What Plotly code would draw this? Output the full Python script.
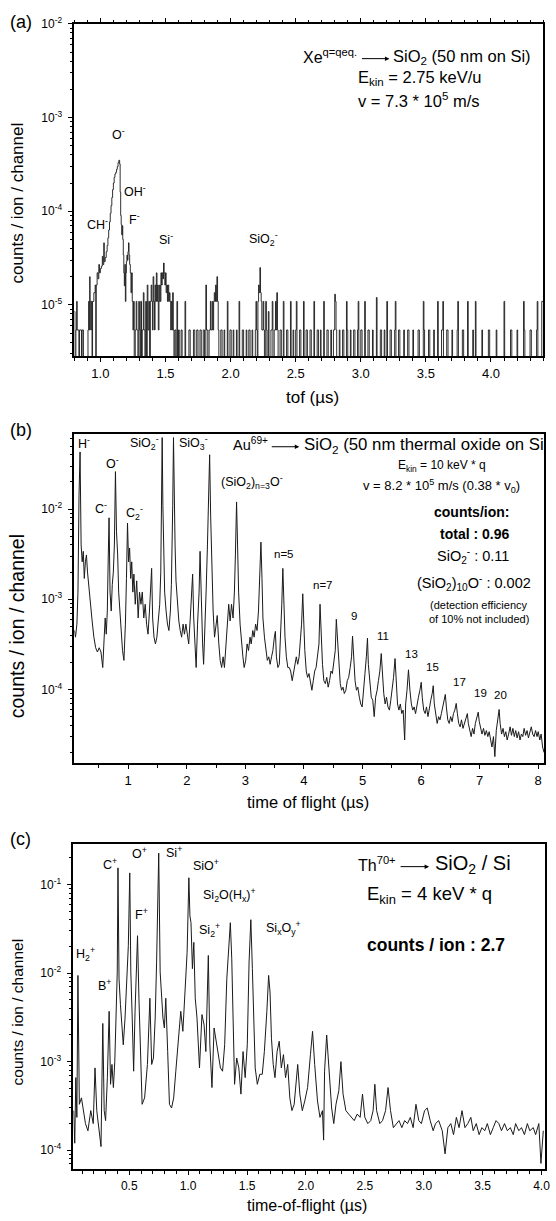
import plotly.graph_objects as go

W, H = 556, 1221
FONT = "Liberation Sans, Arial, Helvetica, sans-serif"

# ---------------- panel (a) data: step histogram (value holds until next tof) -------------
tof_a = [0.800,0.805,0.812,0.818,0.822,0.835,0.840,0.855,0.860,0.870,0.905,0.910,0.914,0.918,0.921,0.926,0.930,0.936,
         0.940,0.950,0.960,0.965,0.968,0.975,0.982,0.988,0.993,1.000,1.008,1.015,1.020,1.026,1.030,1.037,1.045,1.052,
         1.058,1.064,1.070,1.076,1.082,1.088,1.094,1.100,1.106,1.112,1.118,1.124,1.130,1.136,1.142,1.148,1.152,1.156,
         1.160,1.164,1.168,1.172,1.176,1.180,1.184,1.188,1.192,1.196,1.200,1.204,1.208,1.212,1.216,1.220,1.225,1.230,
         1.235,1.240,1.245,1.250,1.255,1.260,1.268,1.275,1.280,1.288,1.295,1.300,1.305,1.310,1.316,1.322,1.330,1.335,
         1.342,1.348,1.354,1.360,1.365,1.372,1.378,1.384,1.390,1.395,1.400,1.405,1.410,1.416,1.420,1.425,1.430,1.435,
         1.440,1.445,1.450,1.455,1.460,1.465,1.470,1.475,1.480,1.485,1.490,1.495,1.500,1.505,1.510,1.515,1.520,1.525,
         1.530,1.535,1.540,1.545,1.550,1.555,1.560,1.565,1.572,1.580,1.588,1.593,1.600,1.606,1.620,1.628,1.650,1.655,
         1.680,1.690,1.715,1.725,1.740,1.750,1.765,1.775,1.790,1.800,1.810,1.815,1.825,1.835,1.845,1.850,1.860,1.865,
         1.870,1.875,1.880,1.885,1.890,1.895,1.900,1.905,1.910,1.925,1.935,1.950,1.955,1.975,1.980,1.995,2.005,2.020,
         2.025,2.045,2.050,2.065,2.070,2.090,2.100,2.120,2.125,2.140,2.150,2.165,2.170,2.190,2.195,2.200,2.205,2.210,
         2.215,2.220,2.225,2.230,2.235,2.240,2.250,2.255,2.260,2.270,2.275,2.280,2.290,2.295,2.310,2.320,2.325,2.335,
         2.345,2.350,2.355,2.360,2.365,2.380,2.390,2.405,2.410,2.430,2.440,2.460,2.465,2.480,2.485,2.500,2.505,2.510,
         2.530,2.540,2.560,2.565,2.580,2.590,2.610,2.620,2.640,2.645,2.665,2.675,2.690,2.695,2.715,2.720,2.740,2.750,
         2.770,2.775,2.790,2.800,2.805,2.810,2.815,2.835,2.840,2.860,2.870,2.890,2.895,2.900,2.920,2.925,2.945,2.955,
         2.975,2.980,2.985,3.000,3.010,3.030,3.035,3.055,3.065,3.090,3.095,3.120,3.125,3.150,3.160,3.180,3.185,3.200,
         3.205,3.225,3.235,3.260,3.265,3.270,3.290,3.300,3.330,3.335,3.360,3.370,3.400,3.405,3.440,3.450,3.480,3.485,
         3.490,3.520,3.530,3.560,3.565,3.590,3.595,3.620,3.630,3.635,3.660,3.670,3.700,3.705,3.740,3.745,3.750,3.780,
         3.790,3.820,3.825,3.860,3.865,3.880,3.885,3.930,3.935,3.980,3.990,4.040,4.045,4.100,4.105,4.150,4.160,4.200,
         4.205,4.250,4.255,4.260,4.300,4.310,4.350,4.355,4.360,4.390,4.400]
cnt_a = [8.5e-6,0,5.4e-6,1.09e-5,5.4e-6,0,5.4e-6,0,5.4e-6,0,5.4e-6,1.09e-5,5.4e-6,2.0e-5,1.09e-5,5.4e-6,1.09e-5,0,
         1.09e-5,1.35e-5,1.63e-5,0,1.63e-5,2.2e-5,1.9e-5,2.7e-5,2.2e-5,2.45e-5,2.6e-5,3.3e-5,2.7e-5,4.6e-5,2.9e-5,3.2e-5,3.7e-5,4.3e-5,
         5.2e-5,6.3e-5,7.7e-5,9.5e-5,1.15e-4,1.4e-4,1.7e-4,2.0e-4,2.3e-4,2.5e-4,2.6e-4,2.8e-4,3.0e-4,3.3e-4,3.5e-4,3.2e-4,1.6e-4,9.0e-5,
         7.2e-5,5.6e-5,7.0e-5,5.0e-5,3.4e-5,2.2e-5,1.6e-5,2.7e-5,1.09e-5,2.2e-5,2.9e-5,3.4e-5,3.0e-5,3.7e-5,4.6e-5,3.4e-5,2.7e-5,2.2e-5,
         1.35e-5,2.2e-5,1.09e-5,5.4e-6,1.09e-5,0,5.4e-6,1.09e-5,5.4e-6,0,1.09e-5,5.4e-6,0,1.09e-5,0,5.4e-6,1.35e-5,5.4e-6,
         0,1.09e-5,0,1.63e-5,5.4e-6,1.09e-5,0,1.09e-5,1.63e-5,1.09e-5,5.4e-6,2.0e-5,1.09e-5,5.4e-6,1.63e-5,1.09e-5,2.2e-5,1.09e-5,
         1.63e-5,5.4e-6,1.09e-5,1.63e-5,1.09e-5,2.2e-5,1.63e-5,2.2e-5,1.9e-5,2.8e-5,2.2e-5,1.63e-5,2.2e-5,1.35e-5,1.63e-5,1.09e-5,1.63e-5,1.09e-5,
         1.35e-5,1.09e-5,5.4e-6,1.09e-5,5.4e-6,1.35e-5,5.4e-6,0,5.4e-6,0,1.09e-5,0,5.4e-6,0,5.4e-6,0,1.09e-5,0,
         5.4e-6,0,5.4e-6,0,5.4e-6,0,5.4e-6,0,5.4e-6,0,1.63e-5,5.4e-6,0,5.4e-6,1.09e-5,5.4e-6,1.09e-5,5.4e-6,
         1.09e-5,1.35e-5,1.09e-5,1.63e-5,1.09e-5,2.0e-5,1.09e-5,5.4e-6,0,5.4e-6,0,5.4e-6,0,1.09e-5,0,5.4e-6,0,5.4e-6,
         0,5.4e-6,0,1.09e-5,0,5.4e-6,0,5.4e-6,0,5.4e-6,0,5.4e-6,0,5.4e-6,1.09e-5,5.4e-6,0,1.09e-5,
         1.63e-5,1.35e-5,2.5e-5,1.35e-5,1.09e-5,5.4e-6,1.09e-5,5.4e-6,0,1.09e-5,5.4e-6,0,8.5e-6,0,5.4e-6,1.09e-5,0,5.4e-6,
         1.09e-5,5.4e-6,1.35e-5,5.4e-6,0,5.4e-6,0,1.09e-5,0,5.4e-6,0,1.09e-5,0,5.4e-6,0,5.4e-6,1.09e-5,0,
         5.4e-6,0,1.09e-5,0,5.4e-6,0,5.4e-6,0,1.09e-5,0,5.4e-6,0,5.4e-6,0,1.09e-5,0,5.4e-6,0,
         5.4e-6,0,5.4e-6,1.3e-5,1.09e-5,5.4e-6,0,5.4e-6,0,5.4e-6,0,1.09e-5,5.4e-6,0,5.4e-6,0,5.4e-6,0,
         5.4e-6,1.09e-5,0,5.4e-6,0,1.09e-5,0,5.4e-6,0,5.4e-6,0,1.2e-5,0,5.4e-6,0,5.4e-6,0,1.09e-5,
         0,5.4e-6,0,5.4e-6,1.09e-5,0,5.4e-6,0,5.4e-6,0,5.4e-6,0,5.4e-6,0,5.4e-6,0,1.09e-5,5.4e-6,
         0,5.4e-6,0,5.4e-6,0,1.09e-5,0,5.4e-6,1.09e-5,0,5.4e-6,0,5.4e-6,0,5.4e-6,1.09e-5,0,5.4e-6,
         0,1.09e-5,0,5.4e-6,0,1.09e-5,0,5.4e-6,0,5.4e-6,0,5.4e-6,0,1.09e-5,0,5.4e-6,0,5.4e-6,
         0,1.09e-5,5.4e-6,0,5.4e-6,0,5.4e-6,1.09e-5,0,1.09e-5,1.09e-5]

# ---------------- panel (b) data ----------------
tof_b = [0.082,0.10,0.124,0.142,0.16,0.178,0.196,0.214,0.233,0.25,0.269,0.287,0.305,0.323,0.353,0.384,0.414,0.444,0.474,0.505,
         0.535,0.565,0.59,0.607,0.625,0.643,0.66,0.673,0.69,0.71,0.728,0.746,0.764,0.782,0.80,0.82,0.837,0.855,0.88,0.903,
         0.927,0.952,0.97,0.988,1.006,1.024,1.042,1.06,1.079,1.097,1.12,1.145,1.17,1.193,1.218,1.24,1.266,1.29,1.314,1.338,
         1.363,1.387,1.40,1.417,1.44,1.465,1.49,1.513,1.538,1.556,1.568,1.58,1.592,1.604,1.622,1.647,1.67,1.695,1.72,1.737,
         1.75,1.76,1.773,1.785,1.80,1.816,1.84,1.864,1.888,1.912,1.937,1.96,1.985,2.01,2.033,2.057,2.08,2.10,2.118,2.142,
         2.16,2.184,2.21,2.227,2.245,2.27,2.287,2.305,2.33,2.353,2.37,2.39,2.408,2.426,2.45,2.474,2.498,2.52,2.547,2.57,
         2.595,2.62,2.643,2.668,2.69,2.716,2.74,2.764,2.79,2.813,2.83,2.85,2.867,2.885,2.91,2.933,2.958,2.98,3.006,3.03,
         3.054,3.08,3.10,3.127,3.15,3.175,3.20,3.224,3.248,3.266,3.284,3.30,3.326,3.35,3.375,3.40,3.423,3.447,3.47,3.495,
         3.513,3.53,3.556,3.58,3.604,3.622,3.64,3.66,3.677,3.70,3.725,3.75,3.773,3.80,3.82,3.846,3.87,3.894,3.918,3.943,
         3.96,3.98,3.997,4.015,4.04,4.063,4.087,4.11,4.136,4.16,4.184,4.208,4.233,4.257,4.275,4.293,4.317,4.34,4.366,4.39,
         4.414,4.438,4.462,4.486,4.51,4.535,4.553,4.57,4.595,4.62,4.643,4.667,4.69,4.716,4.74,4.764,4.79,4.813,4.83,4.85,
         4.873,4.897,4.92,4.946,4.97,4.994,5.018,5.042,5.066,5.085,5.10,5.127,5.15,5.175,5.20,5.224,5.25,5.272,5.296,5.32,
         5.338,5.363,5.387,5.41,5.435,5.46,5.483,5.507,5.53,5.556,5.574,5.598,5.622,5.646,5.67,5.694,5.72,5.737,5.76,5.785,
         5.81,5.834,5.858,5.882,5.906,5.93,5.955,5.98,6.003,6.02,6.045,6.07,6.093,6.118,6.142,6.166,6.19,6.208,6.226,6.25,
         6.275,6.30,6.323,6.347,6.37,6.396,6.414,6.432,6.456,6.48,6.505,6.53,6.553,6.577,6.60,6.62,6.643,6.668,6.69,6.716,
         6.74,6.764,6.79,6.807,6.83,6.855,6.88,6.903,6.927,6.95,6.976,6.994,7.018,7.04,7.066,7.09,7.115,7.14,7.163,7.187,
         7.21,7.236,7.26,7.284,7.308,7.333,7.35,7.375,7.40,7.423,7.447,7.47,7.495,7.52,7.544,7.568,7.592,7.616,7.64,7.665,
         7.69,7.713,7.737,7.76,7.785,7.81,7.833,7.858,7.882,7.906,7.93,7.955,7.98,8.0,8.027,8.05,8.075,8.10]
cnt_b = [4.5e-4,3.8e-4,5.3e-4,1.2e-3,1.4e-2,4.3e-2,4.0e-3,2.6e-3,3.4e-3,1.7e-3,2.6e-3,3.1e-3,2.0e-3,1.45e-3,8.8e-4,5.75e-4,3.8e-4,2.9e-4,2.6e-4,2.9e-4,
         2.6e-4,1.75e-4,3.8e-4,6.2e-4,4.1e-4,7.4e-4,3.1e-3,8.0e-3,1.2e-3,7.4e-4,1.45e-3,2.0e-3,4.0e-3,2.6e-2,5.6e-3,3.1e-3,1.2e-3,7.4e-4,4.1e-4,2.7e-4,
         2.1e-4,5.3e-4,1.7e-3,7.0e-3,2.6e-3,3.7e-3,1.7e-3,2.6e-3,1.2e-3,1.9e-3,8.8e-4,1.6e-3,6.2e-4,1.2e-3,8.8e-4,1.2e-3,6.2e-4,8.8e-4,5.3e-4,4.1e-4,
         7.4e-4,1.45e-3,2.2e-3,6.2e-4,3.8e-4,3.2e-4,3.8e-4,5.75e-4,8.8e-4,2.0e-3,1.1e-2,6.2e-2,1.1e-2,3.1e-3,1.2e-3,7.4e-4,5.3e-4,4.5e-4,7.4e-4,1.45e-3,
         3.1e-3,1.1e-2,6.2e-2,9.4e-3,4.0e-3,1.6e-3,8.8e-4,5.75e-4,4.5e-4,3.8e-4,5.3e-4,4.1e-4,5.3e-4,3.8e-4,3.2e-4,5.75e-4,1.2e-3,1.9e-3,6.2e-4,2.7e-4,
         1.75e-4,5.3e-4,1.2e-3,3.4e-3,8.8e-4,3.2e-4,1.9e-4,3.8e-4,1.2e-3,4.0e-3,1.1e-2,4.0e-2,8.2e-3,2.0e-3,7.4e-4,3.8e-4,5.3e-4,6.6e-4,3.2e-4,2.1e-4,
         1.75e-4,2.3e-4,1.75e-4,3.2e-4,6.2e-4,8.8e-4,5.75e-4,8.8e-4,6.2e-4,1.2e-3,3.1e-3,1.2e-2,4.0e-3,1.2e-3,5.3e-4,3.2e-4,2.3e-4,1.75e-4,2.1e-4,3.2e-4,
         2.7e-4,3.8e-4,3.2e-4,4.5e-4,3.8e-4,5.3e-4,4.5e-4,7.4e-4,1.6e-3,4.3e-3,1.7e-3,6.2e-4,3.8e-4,2.7e-4,2.1e-4,2.3e-4,1.9e-4,2.3e-4,2.7e-4,3.8e-4,
         4.4e-4,2.3e-4,1.75e-4,1.9e-4,3.8e-4,8.8e-4,2.2e-3,7.4e-4,3.8e-4,2.3e-4,1.75e-4,1.75e-4,1.6e-4,1.25e-4,1.5e-4,1.75e-4,2.3e-4,1.9e-4,2.3e-4,3.8e-4,
         5.3e-4,1.15e-3,5.3e-4,2.7e-4,1.6e-4,1.36e-4,1.5e-4,1.25e-4,9.8e-5,1.25e-4,1.6e-4,1.75e-4,2.3e-4,3.2e-4,8.8e-4,4.1e-4,1.9e-4,1.25e-4,1.16e-4,1.36e-4,
         1.06e-4,1.25e-4,1.6e-4,1.5e-4,1.9e-4,2.7e-4,6.0e-4,3.8e-4,1.75e-4,1.16e-4,9.8e-5,1.06e-4,9.0e-5,9.8e-5,1.25e-4,1.36e-4,1.75e-4,2.3e-4,3.9e-4,2.3e-4,
         1.25e-4,9.8e-5,1.06e-4,8.2e-5,6.9e-5,6.4e-5,9.0e-5,1.5e-4,2.3e-4,3.7e-4,1.9e-4,1.06e-4,8.2e-5,7.6e-5,5.0e-5,8.2e-5,9.8e-5,1.25e-4,1.6e-4,2.5e-4,
         1.6e-4,9.0e-5,6.9e-5,8.2e-5,6.4e-5,5.9e-5,7.6e-5,9.8e-5,1.36e-4,2.2e-4,1.25e-4,6.9e-5,5.9e-5,6.9e-5,5.4e-5,5.9e-5,2.75e-5,6.9e-5,9.8e-5,1.65e-4,
         9.8e-5,6.9e-5,5.9e-5,6.4e-5,5.4e-5,6.9e-5,8.2e-5,9.8e-5,1.2e-4,8.2e-5,5.9e-5,5.4e-5,6.4e-5,5.0e-5,5.9e-5,7.6e-5,9.0e-5,1.1e-4,6.9e-5,5.0e-5,
         4.2e-5,5.0e-5,4.6e-5,5.4e-5,6.4e-5,7.6e-5,8.8e-5,6.4e-5,4.6e-5,4.2e-5,5.0e-5,4.4e-5,5.4e-5,5.9e-5,7.0e-5,5.4e-5,4.2e-5,3.85e-5,4.6e-5,3.7e-5,
         4.2e-5,5.0e-5,5.4e-5,4.2e-5,3.5e-5,3.0e-5,3.7e-5,3.2e-5,4.2e-5,5.0e-5,5.6e-5,4.4e-5,3.85e-5,3.2e-5,3.7e-5,3.1e-5,3.5e-5,3.0e-5,3.4e-5,2.75e-5,
         2.3e-5,3.0e-5,1.8e-5,3.5e-5,4.6e-5,6.0e-5,4.2e-5,3.2e-5,3.7e-5,3.0e-5,3.4e-5,2.75e-5,3.2e-5,3.85e-5,3.1e-5,3.7e-5,3.0e-5,3.5e-5,2.9e-5,3.4e-5,
         2.75e-5,3.2e-5,3.0e-5,3.7e-5,3.1e-5,3.5e-5,2.9e-5,3.4e-5,3.85e-5,3.2e-5,3.0e-5,3.5e-5,3.0e-5,3.4e-5,2.75e-5,3.2e-5,2.3e-5,2.0e-5]

# ---------------- panel (c) data ----------------
tof_c = [0.028,0.037,0.046,0.055,0.064,0.076,0.094,0.113,0.128,0.149,0.173,0.194,0.209,0.224,0.245,0.26,0.275,0.287,0.299,0.314,
         0.329,0.341,0.353,0.365,0.377,0.389,0.398,0.404,0.413,0.425,0.44,0.449,0.464,0.48,0.492,0.504,0.513,0.525,0.537,0.549,
         0.561,0.57,0.582,0.594,0.609,0.63,0.654,0.675,0.69,0.705,0.72,0.732,0.744,0.75,0.762,0.774,0.786,0.798,0.81,0.826,
         0.841,0.859,0.877,0.895,0.916,0.937,0.955,0.976,0.991,1.006,1.015,1.024,1.036,1.048,1.06,1.075,1.096,1.117,1.135,1.15,
         1.162,1.171,1.184,1.202,1.22,1.238,1.256,1.274,1.292,1.31,1.328,1.34,1.358,1.37,1.382,1.394,1.412,1.43,1.448,1.466,
         1.484,1.502,1.517,1.532,1.545,1.557,1.569,1.587,1.608,1.629,1.647,1.668,1.683,1.695,1.707,1.722,1.737,1.755,1.773,1.791,
         1.809,1.827,1.845,1.863,1.881,1.90,1.918,1.93,1.948,1.969,1.99,2.014,2.038,2.056,2.074,2.098,2.119,2.14,2.15,2.158,
         2.176,2.194,2.218,2.236,2.255,2.279,2.297,2.315,2.339,2.363,2.387,2.41,2.435,2.46,2.48,2.50,2.525,2.55,2.57,2.585,
         2.60,2.627,2.65,2.676,2.697,2.718,2.742,2.766,2.79,2.814,2.838,2.862,2.886,2.91,2.934,2.958,2.98,3.007,3.03,3.055,
         3.08,3.10,3.127,3.157,3.181,3.205,3.23,3.253,3.277,3.30,3.325,3.35,3.374,3.40,3.42,3.446,3.47,3.494,3.518,3.54,
         3.566,3.59,3.614,3.638,3.66,3.686,3.71,3.735,3.76,3.78,3.807,3.83,3.855,3.88,3.90,3.93,3.95,3.977,3.995,4.015]
cnt_c = [2.8e-4,1.2e-4,6.6e-4,2.35e-4,9.4e-3,3.3e-4,3.9e-4,2.8e-4,2.0e-4,1.66e-4,2.8e-4,2.0e-4,8.5e-4,2.8e-4,1.66e-4,1.1e-4,2.7e-3,2.8e-4,2.16e-4,6.6e-4,
         3.7e-3,5.55e-4,9.3e-4,5.1e-4,1.0e-3,5.2e-3,1.03e-2,0.154,8.6e-3,4.4e-3,2.6e-3,1.55e-3,3.1e-3,8.6e-3,2.04e-2,0.135,1.03e-2,3.1e-3,7.8e-4,3.7e-3,
         1.33e-2,2.64e-2,5.2e-3,1.3e-3,3.3e-4,3.9e-4,9.3e-4,5.2e-3,9.3e-4,1.1e-3,3.1e-3,1.33e-2,0.114,0.226,1.03e-2,5.2e-3,3.1e-3,2.4e-3,5.2e-3,1.3e-3,
         3.3e-4,3.0e-4,3.9e-4,7.8e-4,1.55e-3,3.7e-3,2.2e-3,6.1e-3,1.72e-2,0.119,4.4e-2,3.7e-2,1.12e-2,2.22e-2,5.2e-3,3.1e-3,8.5e-4,3.4e-3,2.6e-3,1.3e-3,
         5.2e-3,1.58e-2,1.55e-3,5.1e-4,2.4e-3,1.7e-3,1.1e-3,8.5e-4,7.8e-4,1.55e-3,8.6e-3,1.58e-2,3.7e-2,1.45e-2,3.7e-3,5.55e-4,1.1e-3,8.5e-4,4.3e-4,1.3e-3,
         6.6e-4,1.55e-3,1.33e-2,4.0e-2,1.12e-2,3.1e-3,8.5e-4,5.55e-4,7.2e-4,7.2e-4,1.3e-3,3.7e-3,9.4e-3,6.1e-3,1.84e-3,9.3e-4,6.6e-4,1.3e-3,1.7e-3,8.5e-4,
         1.2e-3,6.6e-4,9.3e-4,3.9e-4,2.8e-4,3.3e-4,7.2e-4,9.3e-4,4.3e-4,2.8e-4,3.6e-4,5.1e-4,1.2e-3,2.2e-3,9.3e-4,3.6e-4,2.35e-4,2.8e-4,1.3e-4,7.8e-4,
         2.0e-3,9.3e-4,3.0e-4,2.0e-4,3.3e-4,4.7e-4,1.0e-3,4.3e-4,2.8e-4,2.56e-4,2.35e-4,2.16e-4,2.56e-4,2.35e-4,4.3e-4,2.35e-4,2.0e-4,2.16e-4,2.8e-4,5.55e-4,
         2.8e-4,2.0e-4,2.16e-4,2.8e-4,5.1e-4,2.8e-4,1.8e-4,2.0e-4,2.16e-4,1.8e-4,2.16e-4,2.0e-4,2.35e-4,1.8e-4,3.3e-4,2.16e-4,2.0e-4,2.8e-4,3.0e-4,2.16e-4,
         1.66e-4,2.0e-4,2.16e-4,1.66e-4,9.1e-5,1.8e-4,2.0e-4,1.5e-4,2.35e-4,1.8e-4,2.8e-4,1.8e-4,2.0e-4,2.35e-4,1.66e-4,2.0e-4,1.5e-4,1.8e-4,1.66e-4,2.0e-4,
         1.5e-4,1.8e-4,2.16e-4,2.0e-4,1.66e-4,2.0e-4,1.66e-4,1.8e-4,1.5e-4,2.0e-4,1.66e-4,1.8e-4,1.5e-4,2.0e-4,1.66e-4,1.8e-4,1.5e-4,2.0e-4,7.1e-5,1.66e-4]

# ---------------- axis tick labels ----------------
dec_vals = [1e-5, 1e-4, 1e-3, 1e-2, 1e-1]
dec_text = ["10<sup>-5</sup>", "10<sup>-4</sup>", "10<sup>-3</sup>", "10<sup>-2</sup>", "10<sup>-1</sup>"]
minor_log = [m * 10.0 ** e for e in range(-7, 1) for m in range(2, 10)]

# ---------------- layout geometry (pixels) ----------------
def px(x):
    return x / W

def py(y):
    return 1 - y / H

panels = {
    "a": dict(x0=75, x1=548, y0=15, y1=350, xr=[0.8, 4.4], yr=[-5.55, -2.0], mirror="allticks",
              xt=[1.0, 1.5, 2.0, 2.5, 3.0, 3.5, 4.0], xtt=["1.0", "1.5", "2.0", "2.5", "3.0", "3.5", "4.0"], xminor=0.1, xf=13),
    "b": dict(x0=75, x1=549, y0=428, y1=760, xr=[0.08, 8.1], yr=[-4.82, -1.166], mirror=True,
              xt=[1, 2, 3, 4, 5, 6, 7, 8], xtt=["1", "2", "3", "4", "5", "6", "7", "8"], xminor=0.5, xf=13),
    "c": dict(x0=74, x1=550, y0=841, y1=1169, xr=[0.025, 4.03], yr=[-4.216, -0.541], mirror=True,
              xt=[0.5, 1.0, 1.5, 2.0, 2.5, 3.0, 3.5, 4.0], xtt=["0.5", "1.0", "1.5", "2.0", "2.5", "3.0", "3.5", "4.0"], xminor=0.1, xf=12),
}

fig = go.Figure()
ya = [v if v > 0 else 1e-9 for v in cnt_a]
fig.add_trace(go.Scatter(x=tof_a, y=ya, mode="lines", line=dict(color="#1a1a1a", width=0.9, shape="hv"),
                         xaxis="x", yaxis="y", showlegend=False, hoverinfo="skip"))
fig.add_trace(go.Scatter(x=tof_b, y=cnt_b, mode="lines", line=dict(color="#1a1a1a", width=1.0),
                         xaxis="x2", yaxis="y2", showlegend=False, hoverinfo="skip"))
fig.add_trace(go.Scatter(x=tof_c, y=cnt_c, mode="lines", line=dict(color="#1a1a1a", width=1.0),
                         xaxis="x3", yaxis="y3", showlegend=False, hoverinfo="skip"))

layout = dict(width=W, height=H, margin=dict(l=0, r=0, t=0, b=0), paper_bgcolor="white", plot_bgcolor="white",
              font=dict(family=FONT, color="black"), showlegend=False)

for i, key in enumerate(["a", "b", "c"]):
    p = panels[key]
    sx = "" if i == 0 else str(i + 1)
    layout["xaxis" + sx] = dict(
        domain=[px(p["x0"]), px(p["x1"])], range=p["xr"], anchor="y" + sx,
        tickmode="array", tickvals=p["xt"], ticktext=p["xtt"], ticks="outside", ticklen=4, tickwidth=1,
        tickcolor="black", showline=True, linecolor="black", linewidth=1.5, mirror=p["mirror"], showgrid=False,
        zeroline=False, tickfont=dict(size=p["xf"], family=FONT),
        minor=dict(dtick=p["xminor"], ticks="outside", ticklen=2.5, tickcolor="black", showgrid=False),
    )
    layout["yaxis" + sx] = dict(
        domain=[py(p["y1"]), py(p["y0"])], range=p["yr"], type="log", anchor="x" + sx,
        tickmode="array", tickvals=dec_vals, ticktext=dec_text, ticks="outside", ticklen=5, tickwidth=1,
        tickcolor="black", showline=True, linecolor="black", linewidth=1.5, mirror=True, showgrid=False,
        zeroline=False, tickfont=dict(size=12, family=FONT), ticklabelstandoff=3,
        minor=dict(tickmode="array", tickvals=minor_log, ticks="outside", ticklen=3, tickcolor="black", showgrid=False),
    )

anns = []

def txt(x, y, s, size=12, xanchor="center", bold=False, angle=0):
    anns.append(dict(x=px(x), y=py(y), xref="paper", yref="paper", text=("<b>%s</b>" % s) if bold else s,
                     showarrow=False, xanchor=xanchor, yanchor="middle", textangle=angle,
                     font=dict(size=size, family=FONT, color="black")))

def arrow(x0, x1, y):
    anns.append(dict(x=px(x1), y=py(y), xref="paper", yref="paper", ax=-(x1 - x0), ay=0, axref="pixel", ayref="pixel",
                     text="", showarrow=True, arrowhead=2, arrowsize=0.9, arrowwidth=1, arrowcolor="black"))

# panel labels and axis titles
txt(21, 13, "(a)", 18)
txt(21, 424, "(b)", 18)
txt(21, 836, "(c)", 18)
txt(18, 195, "counts / ion / channel", 17, angle=-90)
txt(18, 622, "counts / ion / channel", 19.5, angle=-90)
txt(18, 1010, "counts / ion / channel", 15.5, angle=-90)
txt(315, 391, "tof (µs)", 17)
txt(311, 799, "time of flight (µs)", 16.5)
txt(310, 1205, "time-of-flight (µs)", 16)

# panel (a) annotations
txt(362, 47, "Xe<sup>q=qeq.</sup>", 16, xanchor="right")
arrow(364, 393, 50)
txt(395, 48, "SiO<sub>2</sub> (50 nm on Si)", 16.5, xanchor="left")
txt(359, 70, "E<sub>kin</sub> = 2.75 keV/u", 16.5, xanchor="left")
txt(359, 92, "v = 7.3 * 10<sup>5</sup> m/s", 16.5, xanchor="left")
txt(120, 126, "O<sup>-</sup>", 12.5)
txt(136, 183, "OH<sup>-</sup>", 12.5)
txt(98, 217, "CH<sup>-</sup>", 12.5)
txt(136, 212, "F<sup>-</sup>", 12.5)
txt(168, 232, "Si<sup>-</sup>", 12.5)
txt(266, 232, "SiO<sub>2</sub><sup>-</sup>", 12.5)

# panel (b) annotations
txt(85, 437, "H<sup>-</sup>", 12.5)
txt(146, 437, "SiO<sub>2</sub><sup>-</sup>", 12.5)
txt(195, 437, "SiO<sub>3</sub><sup>-</sup>", 12.5)
txt(114, 457, "O<sup>-</sup>", 12.5)
txt(102, 503, "C<sup>-</sup>", 12.5)
txt(136, 508, "C<sub>2</sub><sup>-</sup>", 12.5)
txt(254, 477, "(SiO<sub>2</sub>)<sub>n=3</sub>O<sup>-</sup>", 12.5)
txt(272, 438, "Au<sup>69+</sup>", 14.5, xanchor="right")
arrow(273, 302, 441)
txt(305, 440, "SiO<sub>2</sub> (50 nm thermal oxide on Si", 16.8, xanchor="left")
txt(446, 460, "E<sub>kin</sub> = 10 keV * q", 12)
txt(446, 481, "v = 8.2 * 10<sup>5</sup> m/s (0.38 * v<sub>0</sub>)", 13)
txt(516, 507, "counts/ion:", 14, xanchor="right", bold=True)
txt(516, 529, "total : 0.96", 14, xanchor="right", bold=True)
txt(516, 551, "SiO<sub>2</sub><sup>-</sup> : 0.11", 14.5, xanchor="right")
txt(538, 578, "(SiO<sub>2</sub>)<sub>10</sub>O<sup>-</sup> : 0.002", 14.5, xanchor="right")
txt(483, 600, "(detection efficiency", 11)
txt(483, 615, "of 10% not included)", 11)
for xx, yy, s in [(287, 549, "n=5"), (326, 580, "n=7"), (357, 612, "9"), (386, 632, "11"), (415, 650, "13"),
                  (436, 663, "15"), (464, 678, "17"), (485, 689, "19"), (505, 691, "20")]:
    txt(xx, yy, s, 11.5)

# panel (c) annotations
txt(111, 861, "C<sup>+</sup>", 12.5)
txt(141, 850, "O<sup>+</sup>", 12.5)
txt(176, 849, "Si<sup>+</sup>", 12.5)
txt(208, 862, "SiO<sup>+</sup>", 12.5)
txt(143, 912, "F<sup>+</sup>", 12.5)
txt(232, 893, "Si<sub>2</sub>O(H<sub>x</sub>)<sup>+</sup>", 12.5)
txt(211, 928, "Si<sub>2</sub><sup>+</sup>", 12.5)
txt(286, 926, "Si<sub>x</sub>O<sub>y</sub><sup>+</sup>", 12.5)
txt(86, 952, "H<sub>2</sub><sup>+</sup>", 12.5)
txt(105, 983, "B<sup>+</sup>", 12.5)
txt(402, 861, "Th<sup>70+</sup>", 16, xanchor="right")
arrow(403, 433, 864)
txt(437, 862, "SiO<sub>2</sub> / Si", 20, xanchor="left")
txt(368, 893, "E<sub>kin</sub> = 4 keV * q", 18.5, xanchor="left")
txt(368, 943, "counts / ion : 2.7", 17.5, xanchor="left", bold=True)

layout["annotations"] = anns
fig.update_layout(**layout)
fig.write_html("out.html")
